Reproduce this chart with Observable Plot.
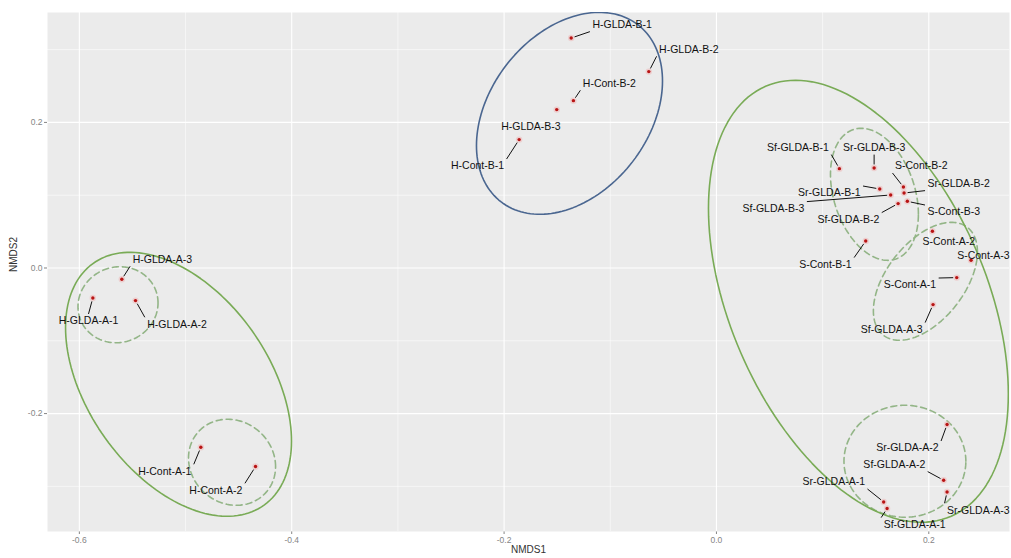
<!DOCTYPE html>
<html><head><meta charset="utf-8">
<script src="https://cdn.jsdelivr.net/npm/d3@7"></script>
<script src="https://cdn.jsdelivr.net/npm/@observablehq/plot@0.6"></script>
<style>html,body{margin:0;padding:0;background:#fff;} #chart{width:1011px;height:558px;}</style>
</head><body><div id="chart"></div>
<script>
// ---- sample scores (NMDS1, NMDS2) ----
const sampleNames = ["H-GLDA-A-1","H-GLDA-A-2","H-GLDA-A-3","H-Cont-A-1","H-Cont-A-2",
  "H-GLDA-B-1","H-GLDA-B-2","H-GLDA-B-3","H-Cont-B-1","H-Cont-B-2",
  "Sf-GLDA-B-1","Sr-GLDA-B-3","Sr-GLDA-B-1","Sf-GLDA-B-3","S-Cont-B-2","Sr-GLDA-B-2","Sf-GLDA-B-2","S-Cont-B-3","S-Cont-B-1",
  "S-Cont-A-2","S-Cont-A-3","S-Cont-A-1","Sf-GLDA-A-3",
  "Sr-GLDA-A-2","Sf-GLDA-A-2","Sr-GLDA-A-3","Sr-GLDA-A-1","Sf-GLDA-A-1"];
const nmds1 = [-0.5873,-0.5471,-0.5600,-0.4856,-0.4341,
  -0.1368,-0.0637,-0.1504,-0.1858,-0.1347,
  0.1158,0.1485,0.1538,0.1641,0.1761,0.1767,0.1711,0.1798,0.1406,
  0.2034,0.2398,0.2263,0.2040,
  0.2172,0.2140,0.2172,0.1575,0.1607];
const nmds2 = [-0.0412,-0.0448,-0.0155,-0.2463,-0.2728,
  0.3159,0.2698,0.2176,0.1764,0.2299,
  0.1365,0.1374,0.1085,0.1003,0.1113,0.1030,0.0885,0.0916,0.0371,
  0.0504,0.0106,-0.0132,-0.0503,
  -0.2151,-0.2916,-0.3077,-0.3214,-0.3305];
// ---- repelled label positions (data units) ----
const labelX = [-0.5914,-0.5080,-0.5218,-0.5196,-0.4714,
  -0.0888,-0.0260,-0.1747,-0.2250,-0.1008,
  0.0767,0.1485,0.1063,0.0537,0.1929,0.2282,0.1242,0.2235,0.1026,
  0.2188,0.2514,0.1822,0.1651,
  0.1798,0.1675,0.2466,0.1105,0.1866];
const labelY = [-0.0728,-0.0773,0.0120,-0.2793,-0.3054,
  0.3343,0.3004,0.1946,0.1401,0.2537,
  0.1654,0.1654,0.1030,0.0816,0.1401,0.1159,0.0665,0.0769,0.0047,
  0.0357,0.0174,-0.0234,-0.0846,
  -0.2473,-0.2701,-0.3328,-0.2940,-0.3525];
const hasLeader = [1,1,1,1,1, 1,1,0,1,1, 1,1,1,1,1,1,1,1,1, 0,0,1,1, 1,1,1,1,1];

// ---- ellipses: centre, half-width, half-height, correlation ----
const ellipseKind = ["solid","dashed","dashed","blue","solid","dashed","dashed","dashed"];
const ellipseCx  = [-0.5066,-0.5636,-0.4562,-0.1384, 0.1337, 0.1488, 0.1968, 0.1775];
const ellipseCy  = [-0.1598,-0.0505,-0.2669, 0.2125,-0.0457, 0.1012,-0.0183,-0.2655];
const ellipseRx  = [ 0.1064, 0.0377, 0.0410, 0.0876, 0.1412, 0.0414, 0.0490, 0.0574];
const ellipseRy  = [ 0.1813, 0.0522, 0.0591, 0.1387, 0.3036, 0.0907, 0.0810, 0.0769];
const ellipseRho = [ -0.43,   0.05,  -0.10,   0.32,  -0.42,  -0.30,   0.50,   0.00];

// ---- axes ----
const xTicks = [-0.6,-0.4,-0.2,0.0,0.2];
const xMinor = [-0.5,-0.3,-0.1,0.1];
const yTicks = [-0.2,0.0,0.2];
const yMinor = [-0.3,-0.1,0.1,0.3];
const xDomain = [-0.630, 0.276];
const yDomain = [-0.362, 0.351];

const W = 1011, H = 558, mL = 47, mR = 2, mT = 12, mB = 27;
const FONT = "'Liberation Sans', Arial, sans-serif";
const LABEL_SIZE = 10.5;

const points = sampleNames.map((n,i)=>({name:n, x:nmds1[i], y:nmds2[i], lx:labelX[i], ly:labelY[i], leader:hasLeader[i]}));

// ellipse outlines
const ellPts = [];
ellipseKind.forEach((k,i)=>{
  const phi = Math.acos(ellipseRho[i]);
  for (let j=0;j<=160;j++){
    const t = j/160*2*Math.PI;
    ellPts.push({id:i, kind:k, x: ellipseCx[i] + ellipseRx[i]*Math.cos(t), y: ellipseCy[i] + ellipseRy[i]*Math.cos(t-phi)});
  }
});

// leader segments (ggrepel-like: point -> nearest anchor of padded label box)
const sx = d3.scaleLinear(xDomain, [mL, W-mR]);
const sy = d3.scaleLinear(yDomain, [H-mB, mT]);
const ctx = document.createElement("canvas").getContext("2d");
ctx.font = `${LABEL_SIZE}px ${FONT}`;
const segs = [];
points.forEach(p=>{
  if (!p.leader) return;
  const px = sx(p.x), py = sy(p.y), lx = sx(p.lx), ly = sy(p.ly);
  const hw = ctx.measureText(p.name).width/2 + 2.5, hh = 7;
  const anchors = [];
  for (const ax of [-1,0,1]) for (const ay of [-1,0,1]) if (ax||ay) anchors.push([lx+ax*hw, ly+ay*hh]);
  let best = anchors[0], bd = Infinity;
  for (const a of anchors){ const d = Math.hypot(a[0]-px, a[1]-py); if (d<bd){bd=d; best=a;} }
  const ux = (best[0]-px)/bd, uy = (best[1]-py)/bd, pad = 3.5;
  segs.push({x1: sx.invert(px+ux*pad), y1: sy.invert(py+uy*pad), x2: sx.invert(best[0]), y2: sy.invert(best[1])});
});

const fmt = d => d.toFixed(1);
const plot = Plot.plot({
  width: W, height: H,
  marginLeft: mL, marginRight: mR, marginTop: mT, marginBottom: mB,
  style: {fontFamily: FONT, fontSize: "8.5px", color: "#858585", background: "#fff"},
  x: {domain: xDomain, ticks: xTicks, tickFormat: fmt, tickSize: 3, tickPadding: 2, label: null},
  y: {domain: yDomain, ticks: yTicks, tickFormat: fmt, tickSize: 3, tickPadding: 2, label: null},
  marks: [
    Plot.frame({fill: "#EBEBEB", stroke: "none"}),
    Plot.ruleX(xMinor, {stroke: "#fff", strokeWidth: 0.55}),
    Plot.ruleY(yMinor, {stroke: "#fff", strokeWidth: 0.55}),
    Plot.ruleX(xTicks, {stroke: "#fff", strokeWidth: 1.1}),
    Plot.ruleY(yTicks, {stroke: "#fff", strokeWidth: 1.1}),
    Plot.line(ellPts.filter(d=>d.kind==="dashed"), {x:"x", y:"y", z:"id", stroke:"#93b587", strokeWidth:1.6, strokeDasharray:"6,4", clip:true}),
    Plot.line(ellPts.filter(d=>d.kind==="solid"), {x:"x", y:"y", z:"id", stroke:"#79ab56", strokeWidth:1.6, clip:true}),
    Plot.line(ellPts.filter(d=>d.kind==="blue"), {x:"x", y:"y", z:"id", stroke:"#4a6690", strokeWidth:1.6, clip:true}),
    Plot.link(segs, {x1:"x1", y1:"y1", x2:"x2", y2:"y2", stroke:"#111", strokeWidth:1}),
    Plot.dot(points, {x:"x", y:"y", r:3.2, fill:"#f0b4b4", fillOpacity:0.5, stroke:"none"}),
    Plot.dot(points, {x:"x", y:"y", r:1.7, fill:"#b81414", stroke:"none"}),
    Plot.text(points, {x:"lx", y:"ly", text:"name", fontSize: LABEL_SIZE, fill:"#111"}),
    Plot.text(["NMDS1"], {text: d=>d, frameAnchor:"bottom", dy: 21, fontSize: 10, fill:"#333"}),
    Plot.text(["NMDS2"], {text: d=>d, frameAnchor:"left", dx: -34, rotate: -90, fontSize: 10, fill:"#333"})
  ]
});
document.getElementById("chart").appendChild(plot);
</script>
</body></html>
